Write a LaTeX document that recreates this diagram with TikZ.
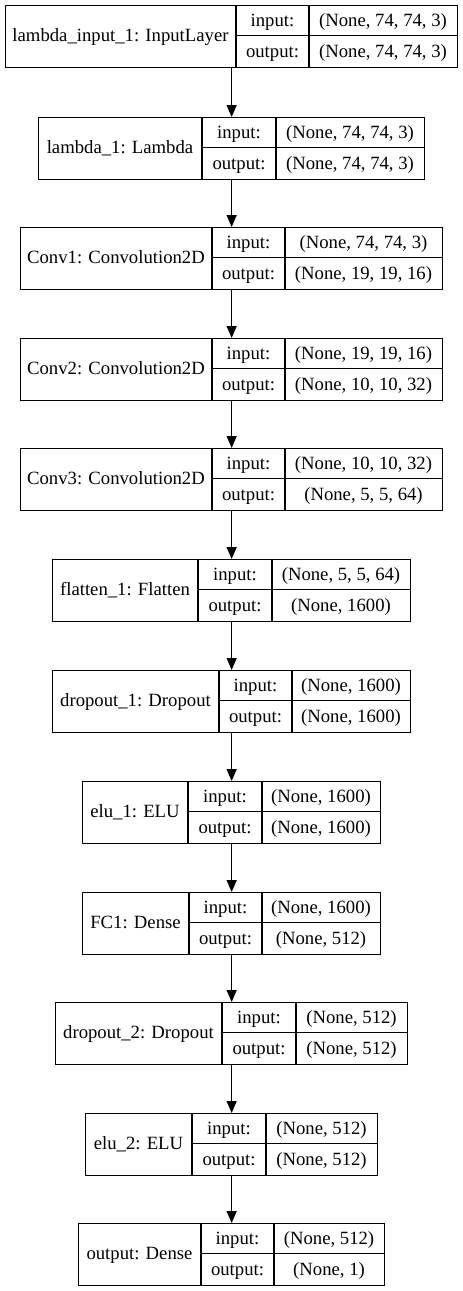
\documentclass[tikz,border=0pt]{standalone}
\usepackage{fontspec}
\setmainfont{Liberation Serif}
\usetikzlibrary{arrows.meta}
\tikzset{
  layer/.style={draw, line width=1.3pt, inner sep=0pt, anchor=north west},
  cellline/.style={line width=1.3pt},
  txt/.style={inner sep=0pt, anchor=base, font=\fontsize{18.7}{22}\selectfont},
  conn/.style={line width=1.3pt, -{Triangle[length=12pt,width=10pt]}},
}
% id, top, left, div1, div2, right, label, input, output
\newcommand\layerbox[9]{%
  \node[layer, minimum width={(#6-#3)*1pt}, minimum height=61.5pt] (#1) at (#3,#2) {};
  \draw[cellline] (#4,#2) -- (#4,{#2+61.5});
  \draw[cellline] (#5,#2) -- (#5,{#2+61.5});
  \draw[cellline] (#4,{#2+30.75}) -- (#6,{#2+30.75});
  \node[txt] (#1name) at ({(#3+#4)/2},{#2+30.75+6}) {#7};
  \node[txt] (#1inlab) at ({(#4+#5)/2},{#2+15.4+6.2}) {input:};
  \node[txt] (#1outlab) at ({(#4+#5)/2},{#2+46.1+6.2}) {output:};
  \node[txt] (#1in) at ({(#5+#6)/2},{#2+15.4+6.2}) {#8};
  \node[txt] (#1out) at ({(#5+#6)/2},{#2+46.1+6.2}) {#9};
}
\begin{document}
\begin{tikzpicture}[x=1pt,y=-1pt]
\fill[white] (0,0) rectangle (463,1291);
\useasboundingbox (0,0) rectangle (463,1291);
\layerbox{L1}{5}{5}{236}{309}{457}{lambda\_input\_1: InputLayer}{(None, 74, 74, 3)}{(None, 74, 74, 3)}
\layerbox{L2}{117}{38}{202}{276}{424}{lambda\_1: Lambda}{(None, 74, 74, 3)}{(None, 74, 74, 3)}
\layerbox{L3}{227}{20}{212}{285}{442}{Conv1: Convolution2D}{(None, 74, 74, 3)}{(None, 19, 19, 16)}
\layerbox{L4}{338}{20}{212}{285}{442}{Conv2: Convolution2D}{(None, 19, 19, 16)}{(None, 10, 10, 32)}
\layerbox{L5}{448}{20}{212}{285}{442}{Conv3: Convolution2D}{(None, 10, 10, 32)}{(None, 5, 5, 64)}
\layerbox{L6}{559}{52}{198}{272}{410}{flatten\_1: Flatten}{(None, 5, 5, 64)}{(None, 1600)}
\layerbox{L7}{670}{52}{219}{292}{410}{dropout\_1: Dropout}{(None, 1600)}{(None, 1600)}
\layerbox{L8}{781}{82}{188}{262}{380}{elu\_1: ELU}{(None, 1600)}{(None, 1600)}
\layerbox{L9}{892}{82}{189}{262}{380}{FC1: Dense}{(None, 1600)}{(None, 512)}
\layerbox{L10}{1002}{55}{222}{296}{407}{dropout\_2: Dropout}{(None, 512)}{(None, 512)}
\layerbox{L11}{1113}{85}{192}{266}{377}{elu\_2: ELU}{(None, 512)}{(None, 512)}
\layerbox{L12}{1223}{78}{201}{274}{384}{output: Dense}{(None, 512)}{(None, 1)}
\foreach \a/\b in {L1/L2,L2/L3,L3/L4,L4/L5,L5/L6,L6/L7,L7/L8,L8/L9,L9/L10,L10/L11,L11/L12}
  \draw[conn] (\a.south) -- (\b.north);
\end{tikzpicture}
\end{document}
